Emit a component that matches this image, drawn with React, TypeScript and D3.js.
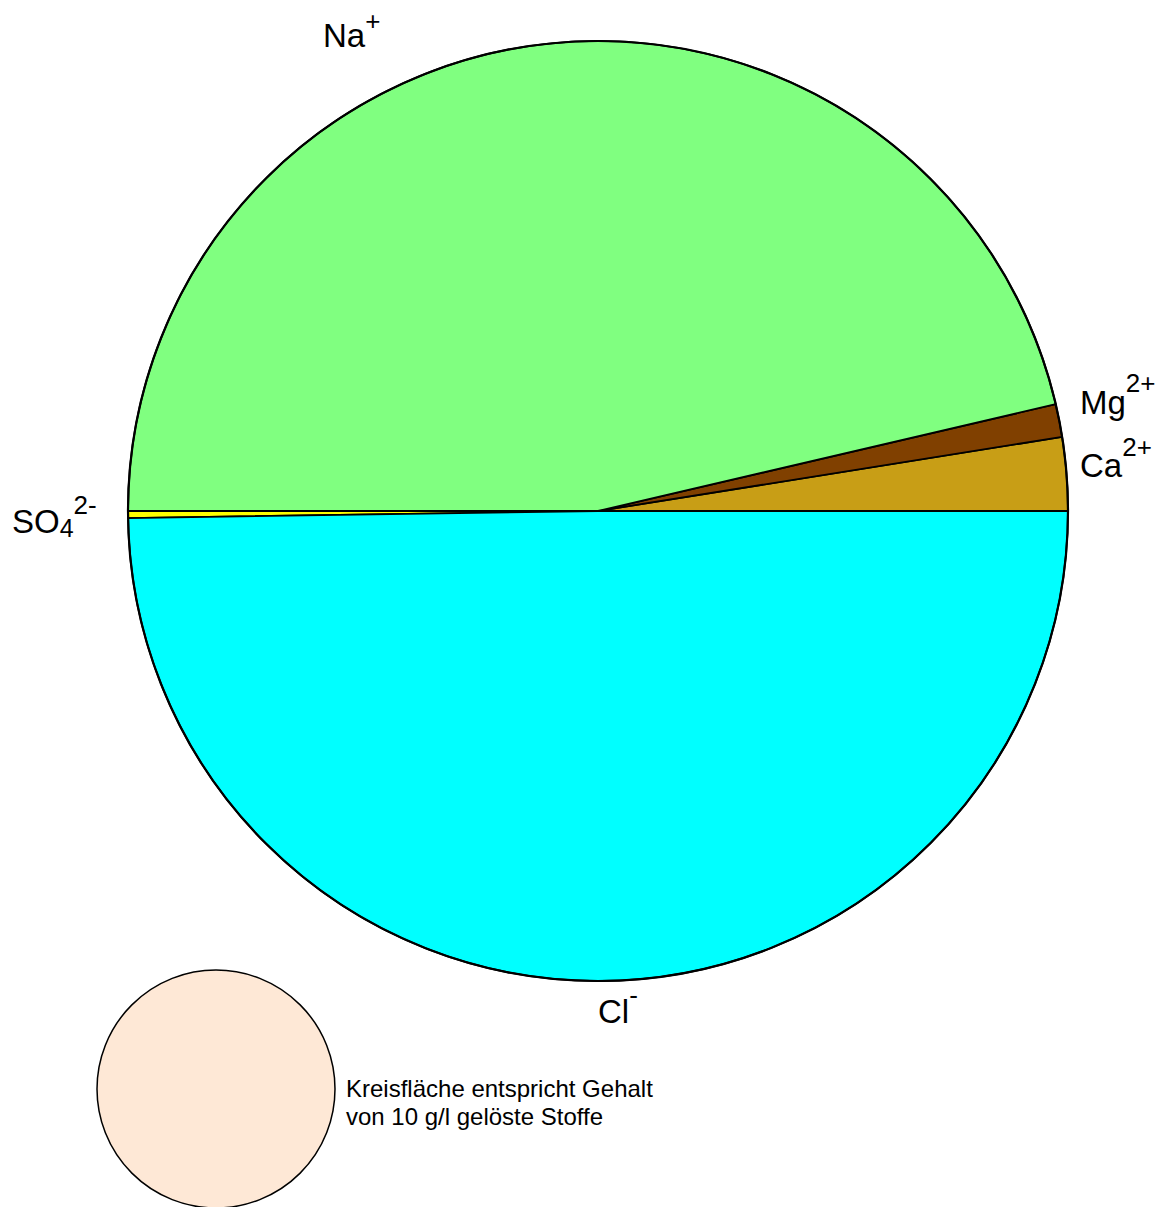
import { useEffect, useRef } from "react";
import * as d3 from "d3";

// Ionen-Anteile (meq-%) – Kationen oben, Anionen unten
const ions = ["Ca", "Mg", "Na", "SO4", "Cl"];
const shares = [2.52, 1.13, 46.35, 0.24, 49.76];
const colors = ["#C89E16", "#804000", "#80FF80", "#FFFF00", "#00FFFF"];

// label parts: main text, subscript, superscript (charge)
const labelMain = ["Ca", "Mg", "Na", "SO", "Cl"];
const labelSub = ["", "", "", "4", ""];
const labelSup = ["2+", "2+", "+", "2-", "-"];
// layout: label anchor offsets from the pie centre and superscript lift
const labelOffset: [number, number][] = [
  [482, -34],
  [482, -97],
  [-275, -464],
  [-586, 22],
  [0, 512],
];
const supLift = [21, 22, 17, 19, 19];

const legendLines = ["Kreisfläche entspricht Gehalt", "von 10 g/l gelöste Stoffe"];

export default function App() {
  const svgRef = useRef<SVGSVGElement | null>(null);

  useEffect(() => {
    const svgEl = svgRef.current;
    if (!svgEl) return;
    const width = 1163;
    const height = 1207;
    const cx = 598;
    const cy = 511;
    const radius = 470;

    const svg = d3.select(svgEl);
    svg.selectAll("*").remove();
    svg.attr("viewBox", `0 0 ${width} ${height}`);

    const data = ions.map((ion, i) => ({ ion, value: shares[i], i }));
    const pie = d3
      .pie<{ ion: string; value: number; i: number }>()
      .value((d) => d.value)
      .sort(null)
      .startAngle(Math.PI / 2)
      .endAngle(Math.PI / 2 - 2 * Math.PI);
    const arc = d3
      .arc<d3.PieArcDatum<{ ion: string; value: number; i: number }>>()
      .innerRadius(0)
      .outerRadius(radius);

    const g = svg.append("g").attr("transform", `translate(${cx},${cy})`);
    g.selectAll("path")
      .data(pie(data))
      .join("path")
      .attr("d", arc)
      .attr("fill", (d) => colors[d.data.i])
      .attr("stroke", "#000")
      .attr("stroke-width", 1.8)
      .attr("stroke-linejoin", "round");

    g.append("circle")
      .attr("r", radius)
      .attr("fill", "none")
      .attr("stroke", "#000")
      .attr("stroke-width", 2.2);

    const font = "Liberation Sans, Arial, sans-serif";
    const labels = svg
      .append("g")
      .attr("font-family", font)
      .attr("fill", "#000");

    ions.forEach((_, i) => {
      const [ox, oy] = labelOffset[i];
      const t = labels
        .append("text")
        .attr("x", cx + ox)
        .attr("y", cy + oy)
        .attr("font-size", 33);
      t.append("tspan").text(labelMain[i]);
      let shift = 0;
      if (labelSub[i]) {
        shift = 4;
        t.append("tspan").attr("dy", shift).attr("font-size", 25).text(labelSub[i]);
      }
      t.append("tspan")
        .attr("dy", -supLift[i] - shift)
        .attr("font-size", 26)
        .text(labelSup[i]);
    });

    // Referenzkreis
    svg
      .append("circle")
      .attr("cx", 216)
      .attr("cy", 1089)
      .attr("r", 119)
      .attr("fill", "#FEE8D6")
      .attr("stroke", "#000")
      .attr("stroke-width", 1.5);

    svg
      .append("g")
      .attr("font-family", font)
      .attr("font-size", 24)
      .selectAll("text")
      .data(legendLines)
      .join("text")
      .attr("x", 346)
      .attr("y", (_, i) => 1097 + i * 28)
      .text((d) => d);
  }, []);

  return (
    <svg
      ref={svgRef}
      width={1163}
      height={1207}
      style={{ position: "absolute", left: 0, top: 0, background: "#fff" }}
    />
  );
}
